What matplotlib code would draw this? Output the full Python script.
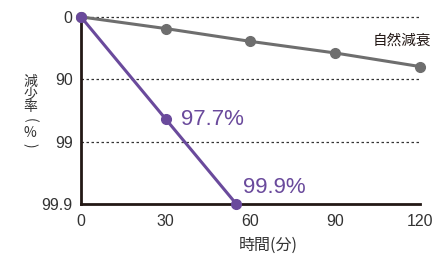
import numpy as np
import matplotlib
matplotlib.use("Agg")
import matplotlib.pyplot as plt

plt.rcParams["font.family"] = ["Noto Sans CJK JP", "DejaVu Sans"]
num_font = ["Liberation Sans", "Noto Sans CJK JP"]

# データ（減少率 %）
natural_time = [0, 30, 60, 90, 120]
natural_rate = [0, 35.0, 59.5, 73.6, 84.0]
treated_time = [0, 30, 55]
treated_rate = [0, 97.7, 99.9]
y_ticks = [0, 90, 99, 99.9]
y_tick_labels = ["0", "90", "99", "99.9"]
x_ticks = [0, 30, 60, 90, 120]
y_label_chars = ["減", "少", "率", "(", "%", ")"]

purple = "#6a4a9c"
gray = "#6e6e6e"
axis_color = "#231815"


def to_log(rate):
    # 減少率 → 対数減少値
    return -np.log10(1 - np.asarray(rate, dtype=float) / 100.0)


fig = plt.figure(figsize=(4.34, 2.56), dpi=100)
ax = fig.add_axes([0.1866, 0.203, 0.781, 0.731])

for t in y_ticks[:-1]:
    ax.plot([0, 120], [to_log(t), to_log(t)], color="#333333", lw=0.9,
            linestyle=(0, (2, 2)), zorder=1, clip_on=False)

ax.plot(natural_time, to_log(natural_rate), color=gray, lw=2.2, marker="o",
        markersize=7, zorder=3, clip_on=False)
ax.plot(treated_time, to_log(treated_rate), color=purple, lw=2.2, marker="o",
        markersize=7, zorder=4, clip_on=False)

ax.text(treated_time[1] + 5.5, to_log(treated_rate[1]), "97.7%", color=purple,
        fontsize=16, va="center", ha="left", family=num_font)
ax.text(treated_time[2] + 2.5, to_log(treated_rate[2]) - 0.1, "99.9%", color=purple,
        fontsize=16, va="bottom", ha="left", family=num_font)
ax.text(124, to_log(natural_rate[3]) - 0.2, "自然減衰", color="#231815",
        fontsize=10.5, va="center", ha="right")

ax.set_xlim(0, 120)
ax.set_ylim(3, 0)
ax.set_xticks(x_ticks)
ax.set_yticks([to_log(v) for v in y_ticks])
ax.set_yticklabels(y_tick_labels)
ax.tick_params(length=0, labelsize=11.5, colors="#333333", pad=6)
ax.tick_params(axis="x", pad=7)
for lab in ax.get_xticklabels() + ax.get_yticklabels():
    lab.set_family(num_font)

for s in ["top", "right"]:
    ax.spines[s].set_visible(False)
for s in ["left", "bottom"]:
    ax.spines[s].set_color(axis_color)
    ax.spines[s].set_linewidth(2)

# 縦書きの軸ラベル（括弧は回転）
for i, ch in enumerate(y_label_chars):
    rot = -90 if ch in "()" else 0
    fig.text(30 / 434, 1 - (81.5 + 12.8 * i) / 256, ch, fontsize=10,
             color="#333333", ha="center", va="center", rotation=rot,
             rotation_mode="anchor")
fig.text(268 / 434, 1 - 245 / 256, "時間(分)", fontsize=11.5, color="#333333",
         ha="center", va="center")

fig.savefig("out.png", dpi=100)
